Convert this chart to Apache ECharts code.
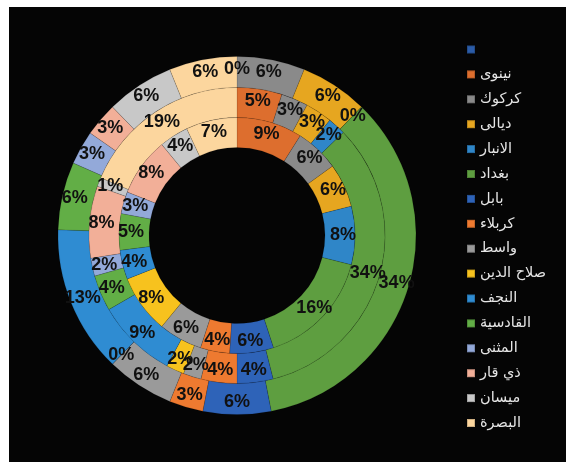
<!DOCTYPE html>
<html>
<head>
<meta charset="utf-8">
<script src="https://cdn.jsdelivr.net/npm/echarts@6/dist/echarts.min.js"></script>
<style>
html,body{margin:0;padding:0;background:#fff;width:566px;height:462px;overflow:hidden;}
#c{position:absolute;left:9px;top:7px;width:557px;height:455px;background:#050505;}
</style>
</head>
<body>
<div id="c"></div>
<script>
const categories = [' ', 'نينوى', 'كركوك', 'ديالى', 'الانبار', 'بغداد', 'بابل', 'كربلاء', 'واسط', 'صلاح الدين', 'النجف', 'القادسية', 'المثنى', 'ذي قار', 'ميسان', 'البصرة'];
const innerValues  = [null, 9, 6, 6, 8, 16, 6, 4, 6, 8, 4, 5, 3, 8, 4, 7];
const middleValues = [null, 5, 3, 3, 2, 34, 4, 4, 2, 2, 9, 4, 2, 8, 1, 19];
const outerValues  = [null, 0, 6, 6, 0, 34, 6, 3, 6, 0, 13, 6, 3, 3, 6, 6];
const colors = ['#2B5CA8', '#DD6E2E', '#8A8A8A', '#E6A620', '#2F86C8', '#5E9E40', '#2E63B8', '#EE7A30', '#9A9A9A', '#F7C21E', '#2F8CD2', '#62AE46', '#93A9D9', '#F2AF98', '#C8C8C8', '#FCD69E'];

function buildData(vals) {
  return categories.map((n, i) => {
    const item = { name: n, value: vals[i] === null ? 0 : vals[i], itemStyle: { color: colors[i] } };
    if (vals[i] === null) item.label = { show: false };
    return item;
  });
}

const labelStyle = {
  show: true,
  position: 'inside',
  formatter: p => p.value + '%',
  color: '#111',
  fontFamily: 'Liberation Sans',
  fontWeight: 'bold',
  fontSize: 18
};

function ring(name, r0, r1, vals, z) {
  return {
    name: name,
    type: 'pie',
    center: [228, 228.5],
    radius: [r0, r1],
    startAngle: 90,
    clockwise: true,
    avoidLabelOverlap: false,
    minShowLabelAngle: 0,
    silent: true,
    animation: false,
    z: z,
    label: labelStyle,
    labelLine: { show: false },
    labelLayout: { hideOverlap: false, moveOverlap: null },
    itemStyle: { borderColor: 'rgba(0,0,0,0.18)', borderWidth: 0.6 },
    emphasis: { disabled: true },
    data: buildData(vals)
  };
}

const chart = echarts.init(document.getElementById('c'));
chart.setOption({
  backgroundColor: '#050505',
  animation: false,
  legend: {
    orient: 'vertical',
    left: 452,
    top: 30,
    itemWidth: 8,
    itemHeight: 8,
    itemGap: 9.9,
    icon: 'rect',
    data: categories,
    selectedMode: false,
    textStyle: { color: '#E6E6E6', fontSize: 14.5, lineHeight: 15, fontFamily: 'DejaVu Sans' }
  },
  series: [
    ring('outer', 148, 179, outerValues, 2),
    ring('middle', 118, 148, middleValues, 3),
    ring('inner', 88, 118, innerValues, 4)
  ]
});
</script>
</body>
</html>
